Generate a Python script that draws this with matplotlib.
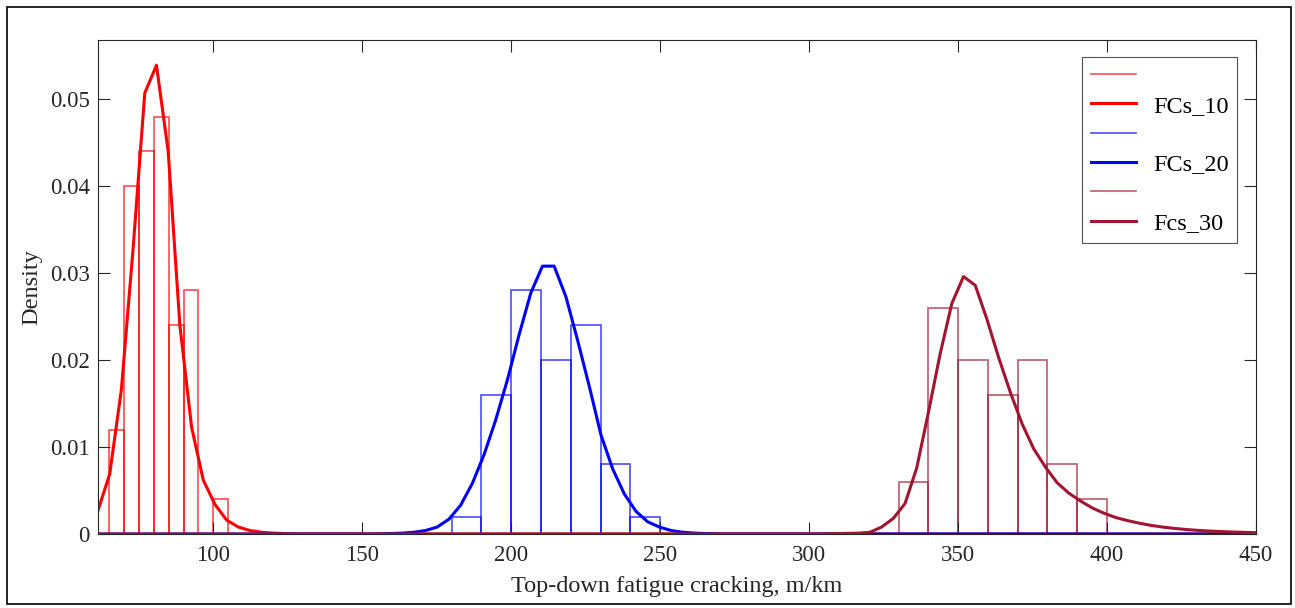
import matplotlib
matplotlib.use("Agg")
import matplotlib.pyplot as plt
from matplotlib.lines import Line2D
from matplotlib.patches import Rectangle

plt.rcParams['font.family'] = ['Liberation Serif', 'DejaVu Serif']

# ---------------- data ----------------
# histogram bins (left edges) and densities
fc10_edges = [65, 70, 75, 80, 85, 90, 95, 100, 105]
fc10_dens = [0.012, 0.040, 0.044, 0.048, 0.024, 0.028, 0.000, 0.004]

fc20_edges = [180, 190, 200, 210, 220, 230, 240, 250]
fc20_dens = [0.002, 0.016, 0.028, 0.020, 0.024, 0.008, 0.002]

fc30_edges = [330, 340, 350, 360, 370, 380, 390, 400]
fc30_dens = [0.006, 0.026, 0.020, 0.016, 0.020, 0.008, 0.004]

# fitted density curves
fc10_x = [61.30, 65.23, 69.15, 73.08, 77.00, 80.93, 84.86, 88.78, 92.71, 96.63,
          100.56, 104.49, 108.41, 112.34, 116.26, 120.19, 124.12, 128.04, 450.0]
fc10_y = [0.0027, 0.0069, 0.0166, 0.0328, 0.0507, 0.0539, 0.0440, 0.0240, 0.0123, 0.0062,
          0.0034, 0.0016, 0.0008, 0.0004, 0.0002, 0.0001, 0.00005, 0.0, 0.0]

fc20_x = [61.30, 155.52, 159.45, 163.38, 167.30, 171.23, 175.15, 179.08, 183.01, 186.93,
          190.86, 194.78, 198.71, 202.64, 206.56, 210.49, 214.41, 218.34, 222.27,
          226.19, 230.12, 234.04, 237.97, 241.90, 245.82, 249.75, 253.67, 257.60,
          261.53, 265.45, 269.38, 450.0]
fc20_y = [0.0, 0.0, 0.00005, 0.0001, 0.0002, 0.0004, 0.0008, 0.0017, 0.0033, 0.0058,
          0.0091, 0.0131, 0.0177, 0.0229, 0.0277, 0.0308, 0.0308, 0.0273, 0.0223,
          0.0170, 0.0114, 0.0075, 0.0046, 0.0026, 0.0014, 0.0008, 0.0004, 0.0002,
          0.0001, 0.00005, 0.0, 0.0]

fc30_x = [61.30, 304.71, 308.64, 312.56, 316.49, 320.42, 324.34, 328.27, 332.19, 336.12,
          340.05, 343.97, 347.90, 351.82, 355.75, 359.68, 363.60, 367.53, 371.45,
          375.38, 379.31, 383.23, 387.16, 391.08, 395.01, 398.94, 402.86, 406.79,
          410.71, 414.64, 418.57, 422.49, 426.42, 430.34, 434.27, 438.20, 442.12,
          446.05, 450.0]
fc30_y = [0.0, 0.0, 0.00003, 0.00007, 0.0001, 0.0002, 0.0008, 0.0018, 0.0035, 0.0076,
          0.0140, 0.0207, 0.0265, 0.0296, 0.0286, 0.0247, 0.0203, 0.0163, 0.0127,
          0.0098, 0.0077, 0.0059, 0.0047, 0.0038, 0.0030, 0.0024, 0.0019, 0.00155,
          0.00125, 0.0010, 0.0008, 0.00065, 0.00052, 0.00042, 0.00034, 0.00028,
          0.00023, 0.00019, 0.00015]

labels = ["", "FCs_10", "", "FCs_20", "", "Fcs_30"]
x_ticks = [100, 150, 200, 250, 300, 350, 400, 450]
y_ticks = [0, 0.01, 0.02, 0.03, 0.04, 0.05]
y_tick_labels = ["0", "0.01", "0.02", "0.03", "0.04", "0.05"]

# ---------------- style ----------------
c_red = (1.0, 0.0, 0.0)
c_blue = (0.0, 0.0, 1.0)
c_mar = (0.635, 0.078, 0.184)
bar_alpha = 0.7
fs_tick = 16.5
fs_label = 17.5
fs_leg = 17.5

fig = plt.figure(figsize=(12.95, 6.08), dpi=100)
ax = fig.add_axes([98 / 1295, 1 - 534 / 608, (1256 - 98) / 1295, (534 - 40) / 608])

series = [
    (fc10_edges, fc10_dens, fc10_x, fc10_y, c_red),
    (fc20_edges, fc20_dens, fc20_x, fc20_y, c_blue),
    (fc30_edges, fc30_dens, fc30_x, fc30_y, c_mar),
]
handles = []
for edges, dens, cx, cy, col in series:
    widths = [edges[i + 1] - edges[i] for i in range(len(dens))]
    ax.bar(edges[:-1], dens, width=widths, align='edge', fill=False,
           edgecolor=col + (bar_alpha,), linewidth=1.2)
    ax.plot(cx, cy, color=col, linewidth=2.2)
    handles.append(Line2D([], [], color=col, alpha=bar_alpha, linewidth=1.2))
    handles.append(Line2D([], [], color=col, linewidth=2.2))

ax.set_xlim(61.3, 450)
ax.set_ylim(0, 0.0568)
ax.set_xticks(x_ticks)
ax.set_yticks(y_ticks)
ax.set_yticklabels(y_tick_labels)
ax.tick_params(direction='in', top=True, right=True, length=8.3, width=0.8,
               colors='#262626', labelsize=fs_tick)
ax.tick_params(axis='x', pad=8)
ax.tick_params(axis='y', pad=6)
for s in ax.spines.values():
    s.set_color('#262626')
    s.set_linewidth(0.8)

ax.set_xlabel("Top-down fatigue cracking, m/km", fontsize=fs_label, color='#262626', labelpad=7)
ax.set_ylabel("Density", fontsize=fs_label, color='#262626', labelpad=5)

leg = ax.legend(handles, labels, loc='upper right', bbox_to_anchor=(0.9836, 0.9656),
                borderaxespad=0, fontsize=fs_leg, frameon=True, fancybox=False,
                handlelength=1.85, handletextpad=0.7, labelspacing=0.3,
                borderpad=0.35)
leg.get_frame().set_edgecolor('#262626')
leg.get_frame().set_linewidth(0.8)

# outer figure border
fig.patches.append(Rectangle((6.5 / 1295, 1 - 604 / 608), (1291 - 6.5) / 1295, (604 - 7) / 608,
                             transform=fig.transFigure, fill=False, edgecolor='black',
                             linewidth=1.2))

fig.savefig("out.png", dpi=100)
